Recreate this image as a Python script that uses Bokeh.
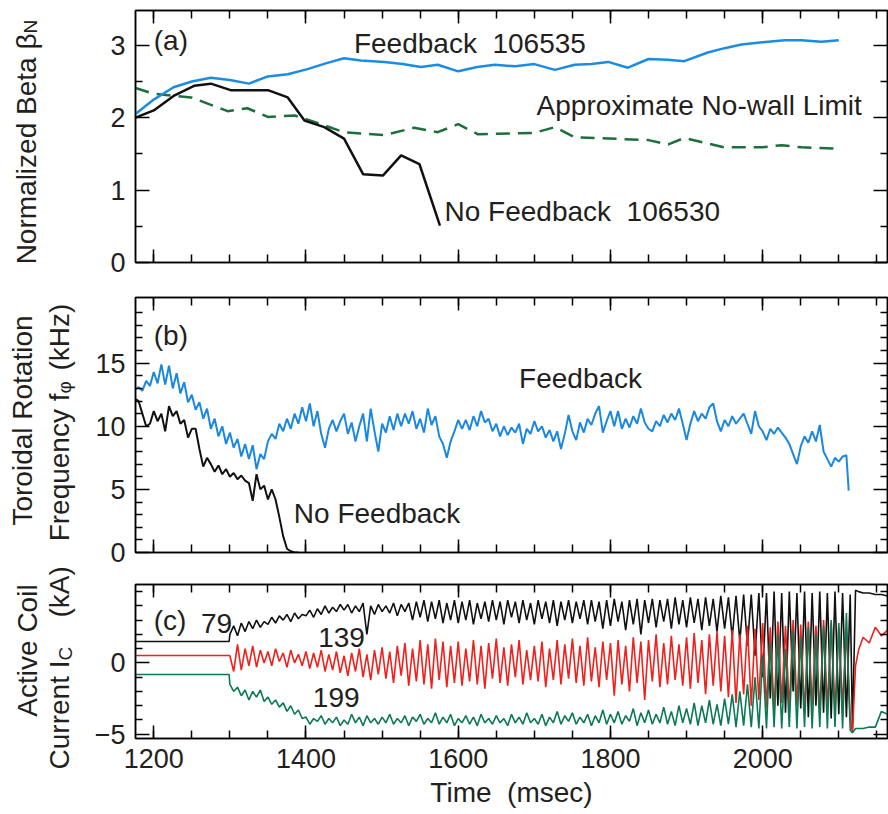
from math import pi
from bokeh.plotting import figure
from bokeh.models import LinearAxis, Label, FixedTicker, Range1d, CustomJSTickFormatter
from bokeh.layouts import column, row
from bokeh.embed import file_html
from bokeh.resources import INLINE

FONT = "Liberation Sans"
TXT = "#231f20"
NB = "\u00a0"

# ---------------- data ----------------
x_major = [1200, 1400, 1600, 1800, 2000]
x_minor = list(range(1200, 2164, 50))

a_fb_t = [1176, 1200, 1226, 1250, 1275, 1300, 1325, 1350, 1376, 1402, 1426, 1450, 1472, 1503, 1527,
          1551, 1573, 1600, 1625, 1648, 1675, 1700, 1727, 1753, 1775, 1797, 1823, 1850, 1875, 1897,
          1928, 1950, 1972, 2000, 2029, 2051, 2077, 2100]
a_fb_v = [2.05, 2.25, 2.42, 2.50, 2.55, 2.52, 2.47, 2.57, 2.60, 2.67, 2.75, 2.82, 2.79, 2.77, 2.74,
          2.70, 2.73, 2.64, 2.70, 2.73, 2.71, 2.74, 2.66, 2.73, 2.74, 2.77, 2.69, 2.81, 2.80, 2.78,
          2.90, 2.96, 3.01, 3.04, 3.07, 3.07, 3.05, 3.07]
a_nofb_t = [1176, 1200, 1226, 1253, 1275, 1301, 1350, 1376, 1398, 1424, 1450, 1475, 1501, 1525, 1549, 1576]
a_nofb_v = [2.00, 2.10, 2.30, 2.44, 2.47, 2.38, 2.38, 2.28, 1.96, 1.87, 1.71, 1.22, 1.20, 1.48, 1.36, 0.51]
a_lim_t = [1176, 1200, 1249, 1297, 1323, 1350, 1385, 1411, 1450, 1503, 1542, 1573, 1600, 1626, 1700,
           1727, 1753, 1850, 1876, 1897, 1950, 1999, 2025, 2051, 2100]
a_lim_v = [2.41, 2.33, 2.28, 2.09, 2.13, 2.01, 2.03, 1.94, 1.80, 1.76, 1.86, 1.80, 1.91, 1.77, 1.79,
           1.87, 1.73, 1.69, 1.63, 1.72, 1.59, 1.59, 1.62, 1.59, 1.57]

b_fb_v = [12.9, 13.1, 12.8, 13.6, 13.2, 14.3, 13.4, 14.9, 13.3, 14.8,
          13.0, 14.2, 12.6, 13.5, 11.9, 12.5, 11.3, 11.9, 10.6, 11.4,
          9.8, 10.6, 9.2, 10.0, 8.6, 9.5, 8.3, 9.0, 7.6, 8.6,
          7.4, 8.5, 6.6, 7.8, 7.4, 8.8, 9.4, 9.0, 10.2, 9.6,
          10.6, 9.8, 11.0, 10.2, 11.5, 10.4, 11.8, 10.0, 11.2, 9.4,
          8.3, 9.8, 10.5, 9.6, 10.4, 11.0, 9.4, 10.3, 8.8, 10.0,
          11.0, 8.8, 11.4, 9.6, 8.0, 10.2, 9.5, 10.8, 9.7, 11.0,
          10.0, 11.0, 10.2, 11.2, 9.8, 10.6, 9.5, 11.4, 10.1, 10.8,
          9.2, 8.6, 7.5, 8.8, 9.6, 10.5, 9.8, 10.5, 9.7, 10.8,
          10.0, 11.2, 10.3, 10.6, 9.6, 10.2, 9.2, 10.0, 9.3, 9.9,
          9.5, 10.2, 8.6, 9.8, 9.4, 10.4, 9.6, 10.0, 9.1, 9.7,
          8.8, 9.6, 8.2, 9.4, 10.9, 9.6, 8.9, 10.3, 9.5, 10.6,
          10.1, 11.0, 11.6, 9.5, 10.4, 11.2, 10.0, 11.2, 9.8, 10.6,
          9.9, 10.8, 10.2, 11.4, 10.3, 9.8, 9.6, 10.4, 10.0, 10.9,
          10.3, 11.0, 10.5, 11.4, 10.2, 8.9, 10.2, 11.2, 10.4, 11.0,
          10.6, 11.5, 11.8, 10.4, 9.6, 10.5, 10.0, 10.8, 10.2, 10.6,
          11.0, 10.2, 9.4, 11.2, 10.0, 9.6, 8.9, 9.8, 9.4, 9.9,
          9.5, 9.1, 8.6, 7.8, 7.0, 8.4, 9.2, 8.7, 9.6, 8.8,
          10.1, 8.0, 7.4, 6.8, 7.5, 7.2, 7.6, 7.7, 4.9]
b_fb_t = [1175 + 5 * i for i in range(len(b_fb_v) - 1)] + [2113]

b_nofb_v = [12.2, 12.0, 11.0, 10.0, 10.2, 11.2, 10.4, 11.0, 9.6, 11.6,
            10.8, 11.2, 10.2, 10.5, 9.1, 9.8, 9.8, 8.2, 6.8, 7.5,
            7.0, 6.4, 6.9, 6.2, 6.6, 6.0, 6.3, 5.8, 6.1, 5.7,
            5.5, 4.1, 6.2, 5.0, 5.3, 4.2, 5.0, 4.2, 2.8, 1.3,
            0.3, 0.1, 0.0, 0.0]
b_nofb_t = [1175 + 5 * i for i in range(len(b_nofb_v))]

c79 = [2.0, 2.6, 1.9, 2.8, 2.2, 2.9, 2.4, 3.0, 2.5, 2.9,
       2.7, 3.2, 2.8, 3.3, 3.0, 3.4, 2.9, 3.5, 3.1, 3.4,
       3.3, 3.7, 3.2, 3.8, 3.4, 4.0, 3.5, 3.9, 3.6, 4.1,
       3.7, 4.1, 3.5, 4.0, 3.6, 4.2, 2.0, 4.0, 3.4, 4.1,
       3.6, 4.0, 3.5, 4.2, 3.3, 4.1, 3.6, 4.2, 3.0, 4.3,
       3.2, 4.4, 2.9, 4.3, 3.1, 4.4, 2.8, 4.2, 3.0, 4.4,
       2.8, 4.3, 3.0, 4.4, 2.7, 4.2, 3.1, 4.3, 2.9, 4.4,
       3.0, 4.3, 2.7, 4.4, 3.2, 4.3, 2.8, 4.4, 3.0, 4.2,
       2.7, 4.4, 3.1, 4.3, 2.8, 4.4, 2.6, 4.3, 3.0, 4.4,
       2.8, 4.3, 3.1, 4.4, 2.7, 4.4, 2.9, 4.3, 2.4, 4.4,
       2.6, 4.5, 2.9, 4.3, 2.3, 4.4, 2.7, 4.5, 2.0, 4.4,
       2.8, 4.5, 2.5, 4.4, 2.9, 4.5, 2.4, 4.6, 2.7, 4.4,
       2.5, 4.6, 2.8, 4.5, 2.3, 4.6, 2.6, 4.5, 2.2, 4.7,
       2.4, 4.6, 1.8, 4.7, 1.5, 4.8, 1.2, 4.8, 0.5, 4.9,
       -1.0, 4.9, -2.5, 5.0, -3.0, 4.9, -3.5, 5.0, -2.0, 4.9,
       -3.2, 5.0, -3.8, 4.9, -3.0, 5.0, -3.5, 4.9, -3.9, 5.0,
       -3.6, 4.9, -3.8, 4.8]
c139 = [0.5, -0.6, 1.3, -0.5, 1.0, -0.2, 1.2, -0.3, 0.9, 0.0,
        0.8, -0.2, 1.0, 0.1, 0.7, -0.3, 0.9, 0.0, 0.6, -0.2,
        0.8, -0.4, 0.7, -0.3, 0.9, -0.6, 0.6, -0.5, 0.8, -0.7,
        0.5, -0.9, 0.7, -0.6, 1.0, -1.0, 0.6, -1.2, 0.9, -0.8,
        1.1, -1.1, 0.8, -1.4, 1.2, -0.9, 1.4, -1.6, 1.0, -1.3,
        1.6, -1.5, 1.3, -1.8, 1.7, -1.2, 1.5, -1.7, 1.2, -1.4,
        1.5, -1.6, 1.0, -1.3, 1.6, -1.5, 1.2, -1.8, 1.4, -1.1,
        1.7, -1.4, 1.1, -1.6, 1.3, -1.0, 1.6, -1.5, 0.9, -1.2,
        1.2, -1.3, 1.5, -1.7, 1.0, -1.2, 1.6, -1.5, 1.3, -1.1,
        1.7, -1.4, 1.2, -1.6, 1.8, -1.3, 1.1, -1.7, 1.5, -1.2,
        1.4, -2.3, 1.6, -1.5, 1.2, -2.0, 1.8, -1.4, 1.5, -2.6,
        1.6, -1.3, 2.0, -1.7, 1.4, -1.5, 1.9, -1.2, 1.3, -1.6,
        1.8, -1.8, 2.1, -1.4, 1.6, -2.2, 2.0, -1.6, 2.2, -2.0,
        1.9, -2.4, 2.3, -2.8, 2.0, -2.2, 2.6, -3.0, 2.4, -2.6,
        2.8, -3.2, 2.5, -3.4, 2.9, -2.8, 2.6, -3.3, 3.0, -3.0,
        2.7, -3.5, 2.9, -3.0, 2.6, -3.6, 3.0, -3.2, 2.8, -3.4,
        2.5, -3.0, 2.2, -3.8]
c199 = [-1.5, -2.0, -1.7, -2.3, -1.9, -2.6, -2.0, -2.4, -1.9, -2.7,
        -2.4, -2.9, -2.6, -3.1, -2.8, -3.4, -3.0, -3.6, -3.3, -3.9,
        -3.8, -4.3, -3.9, -4.1, -3.7, -4.3, -3.9, -4.2, -3.8, -4.4,
        -4.0, -4.3, -3.6, -4.2, -3.8, -4.4, -3.7, -4.2, -3.9, -4.3,
        -3.8, -4.2, -3.6, -4.3, -3.9, -4.2, -3.7, -4.4, -3.8, -4.1,
        -3.6, -4.3, -3.9, -4.2, -3.5, -4.3, -3.8, -4.2, -3.6, -4.4,
        -3.9, -4.2, -3.7, -4.3, -3.8, -4.4, -3.6, -4.2, -3.9, -4.3,
        -3.7, -4.2, -3.9, -4.4, -3.6, -4.2, -3.8, -4.3, -3.5, -4.2,
        -3.9, -4.3, -3.6, -4.4, -3.8, -4.2, -3.4, -4.3, -3.7, -4.1,
        -3.5, -4.3, -3.8, -4.2, -3.6, -4.4, -3.7, -4.2, -3.3, -4.3,
        -3.6, -4.2, -3.4, -4.3, -3.7, -4.1, -3.2, -4.4, -3.5, -4.2,
        -3.3, -4.3, -3.6, -4.2, -3.1, -4.3, -3.4, -4.4, -3.0, -4.2,
        -3.2, -4.3, -2.8, -4.4, -3.0, -4.2, -2.6, -4.3, -2.9, -4.4,
        -2.5, -4.3, -2.2, -4.5, -2.0, -4.4, -1.5, -4.5, -1.0, -4.6,
        0.5, -4.6, 1.5, -4.5, 2.0, -4.6, 1.0, -4.5, 2.2, -4.6,
        1.8, -4.5, 2.5, -4.6, 2.0, -4.5, 2.6, -4.6, 3.0, -4.5,
        2.8, -4.6, 3.5, -4.7]
c_pre_t = [1176, 1299]
c79_pre, c139_pre, c199_pre = [1.5, 1.5], [0.52, 0.52], [-0.81, -0.81]
c_post_t = [2118, 2122, 2126, 2132, 2140, 2148, 2156, 2164]
c79_post = [-4.6, 5.1, 5.0, 4.9, 4.9, 4.8, 4.8, 4.7]
c139_post = [-4.9, -0.2, 0.9, 1.8, 1.4, 2.5, 1.9, 2.3]
c199_post = [-4.9, -4.6, -4.6, -4.6, -4.5, -4.5, -3.4, -3.6]
c_t = c_pre_t + [1300 + 5 * i for i in range(len(c79))] + c_post_t

# ---------------- figure helpers ----------------
x_range = Range1d(1176, 2164)
LABEL_W = 88
MAIN_W = 800
TOTAL_H = 814


def style_axis(ax, show, major_len, minor_len):
    ax.axis_line_color = "black"
    ax.axis_line_width = 1.5
    ax.major_tick_in = major_len
    ax.major_tick_out = 0
    ax.minor_tick_in = minor_len
    ax.minor_tick_out = 0
    ax.major_tick_line_color = "black"
    ax.major_tick_line_width = 1.5
    ax.minor_tick_line_color = "black"
    ax.minor_tick_line_width = 1.5
    if show:
        ax.major_label_text_font = FONT
        ax.major_label_text_font_size = "27px"
        ax.major_label_text_color = TXT
        ax.major_label_standoff = 10
    else:
        ax.major_label_text_font_size = "0px"
        ax.major_label_standoff = 0
        ax.formatter = CustomJSTickFormatter(code="return ''")


def make_fig(h, yr, top, bottom, yt, ym, xlabels):
    p = figure(width=MAIN_W, height=h, x_range=x_range, y_range=Range1d(*yr),
               output_backend="svg", toolbar_location=None, title=None,
               x_axis_location=None, y_axis_location=None,
               min_border_left=135 - LABEL_W, min_border_right=1,
               min_border_top=top, min_border_bottom=bottom)
    p.outline_line_color = "black"
    p.outline_line_width = 1.5
    xt = FixedTicker(ticks=x_major, minor_ticks=x_minor)
    ytk = FixedTicker(ticks=yt, minor_ticks=ym)
    left = LinearAxis(ticker=ytk, formatter=CustomJSTickFormatter(
        code="return tick < 0 ? '\u2212' + Math.abs(tick) : String(tick)"))
    style_axis(left, True, 14, 7)
    p.add_layout(left, "left")
    right = LinearAxis(ticker=ytk)
    style_axis(right, False, 14, 7)
    p.add_layout(right, "right")
    bot = LinearAxis(ticker=xt)
    style_axis(bot, xlabels, 13, 8)
    p.add_layout(bot, "below")
    topax = LinearAxis(ticker=xt)
    style_axis(topax, False, 13, 8)
    p.add_layout(topax, "above")
    p.xgrid.visible = False
    p.ygrid.visible = False
    return p, bot


def ann(p, x, y, text, size="28px"):
    p.add_layout(Label(x=x, y=y, text=text, text_font=FONT, text_font_size=size,
                       text_color=TXT, text_baseline="middle", text_align="left"))


# label strip: one tall figure whose coordinates are page pixels (y grows downwards)
lf = figure(width=LABEL_W, height=TOTAL_H, x_range=Range1d(0, LABEL_W),
            y_range=Range1d(TOTAL_H, 0), output_backend="svg", toolbar_location=None,
            title=None, x_axis_location=None, y_axis_location=None,
            min_border_left=0, min_border_right=0, min_border_top=0, min_border_bottom=0)
lf.outline_line_color = None
lf.xgrid.visible = False
lf.ygrid.visible = False

DX = -11


def rtext(x, y, text, align, size="28px"):
    lf.add_layout(Label(x=x + DX, y=y, text=text, angle=pi / 2, text_font=FONT,
                        text_font_size=size, text_color=TXT, text_align=align,
                        text_baseline="alphabetic"))


HA, HB, HC = 280, 290, 244

# ---------------- panel (a) ----------------
pa, _ = make_fig(HA, (0, 3.48), 10, 18, [0, 1, 2, 3], [0.5, 1.5, 2.5], False)
pa.line(a_lim_t, a_lim_v, line_color="#1d6e3c", line_width=2.5, line_dash="14 8")
pa.line(a_nofb_t, a_nofb_v, line_color="#111111", line_width=2.5)
pa.line(a_fb_t, a_fb_v, line_color="#1c8ce0", line_width=2.5)
ann(pa, 1200, 3.06, "(a)")
ann(pa, 1463, 3.03, "Feedback" + NB + NB + "106535")
ann(pa, 1703, 2.17, "Approximate No-wall Limit")
ann(pa, 1582, 0.70, "No Feedback" + NB + NB + "106530")
rtext(37, 33, "Normalized Beta \u03b2", "right")
rtext(41, 33, "N", "left", "19px")

# ---------------- panel (b) ----------------
pb, _ = make_fig(HB, (0, 20.2), 17, 18, [0, 5, 10, 15],
                 [v for v in range(1, 21) if v % 5 != 0], False)
pb.line(b_nofb_t, b_nofb_v, line_color="#111111", line_width=2)
pb.line(b_fb_t, b_fb_v, line_color="#1a88e0", line_width=2)
ann(pb, 1200, 17.2, "(b)")
ann(pb, 1680, 13.8, "Feedback")
ann(pb, 1384, 3.1, "No Feedback")
rtext(33, 420, "Toroidal Rotation", "center")
rtext(70, 393, "Frequency" + NB + "f", "right")
rtext(75, 393, "\u03c6", "left", "19px")
rtext(70, 370, "(kHz)", "left")

# ---------------- panel (c) ----------------
pc, pc_bot = make_fig(HC, (-5.3, 5.5), 14, 76, [-5, 0],
                      [-4, -3, -2, -1, 1, 2, 3, 4, 5], True)
pc_bot.axis_label = "Time" + NB + NB + "(msec)"
pc_bot.axis_label_text_font = FONT
pc_bot.axis_label_text_font_size = "28px"
pc_bot.axis_label_text_font_style = "normal"
pc_bot.axis_label_text_color = TXT
pc_bot.axis_label_standoff = 6
pc.line(c_t, c79_pre + c79 + c79_post, line_color="#111111", line_width=1.6)
pc.line(c_t, c139_pre + c139 + c139_post, line_color="#f0201c", line_width=1.6)
pc.line(c_t, c199_pre + c199 + c199_post, line_color="#0b7a52", line_width=1.6)
ann(pc, 1200, 3.0, "(c)")
ann(pc, 1262, 2.8, "79")
ann(pc, 1416, 1.8, "139")
ann(pc, 1409, -2.4, "199")
rtext(38, 650, "Active Coil", "center")
rtext(70, 660, "Current" + NB + "I", "right")
rtext(76, 660, "C", "left", "19px")
rtext(70, 617, "(kA)", "left")

layout = row(lf, column(pa, pb, pc))
open("out.html", "w").write(file_html(layout, INLINE))
